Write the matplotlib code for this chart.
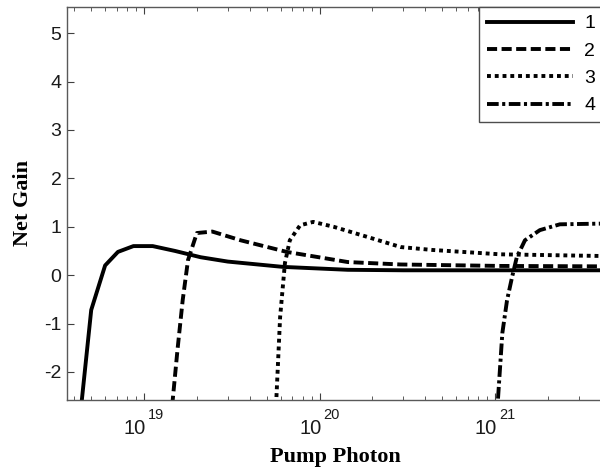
import matplotlib
matplotlib.use("Agg")
import matplotlib.pyplot as plt
from matplotlib.ticker import LogLocator, NullFormatter

# Net gain curves vs pump photon density
x1 = [4.3e18, 5.0e18, 6.0e18, 7.1e18, 8.7e18, 1.12e19, 1.5e19, 2.1e19, 3.0e19, 6.2e19, 1.45e20, 3.0e20, 1.07e21, 5e21]
y1 = [-3.0, -0.72, 0.2, 0.48, 0.6, 0.6, 0.5, 0.37, 0.28, 0.17, 0.11, 0.1, 0.1, 0.1]

x2 = [1.42e19, 1.55e19, 1.66e19, 1.78e19, 2.0e19, 2.45e19, 3.55e19, 6.5e19, 1.45e20, 2.9e20, 1.07e21, 5e21]
y2 = [-3.0, -1.55, -0.52, 0.31, 0.87, 0.9, 0.72, 0.48, 0.27, 0.22, 0.19, 0.18]

x3 = [5.6e19, 5.96e19, 6.2e19, 6.35e19, 6.77e19, 7.75e19, 9.2e19, 1.2e20, 1.87e20, 2.9e20, 4.4e20, 1.07e21, 5e21]
y3 = [-3.0, -0.87, -0.17, 0.25, 0.72, 1.03, 1.1, 1.0, 0.79, 0.58, 0.52, 0.43, 0.39]

x4 = [1.02e21, 1.1e21, 1.17e21, 1.25e21, 1.33e21, 1.48e21, 1.8e21, 2.34e21, 5e21]
y4 = [-3.0, -1.2, -0.52, -0.04, 0.37, 0.72, 0.93, 1.05, 1.07]

labels = ["1", "2", "3", "4"]
decades = [19, 20, 21]

plt.rcParams["font.family"] = "Liberation Sans"
plt.rcParams["axes.unicode_minus"] = False

fig = plt.figure(figsize=(6, 4.75), dpi=100)
ax = fig.add_axes([67 / 600, 75 / 475, 536 / 600, 393 / 475])

lw = 2.8
ax.plot(x1, y1, color="black", lw=lw, linestyle="-", label=labels[0])
ax.plot(x2, y2, color="black", lw=lw, linestyle=(0, (2.6, 1.15)), label=labels[1])
ax.plot(x3, y3, color="black", lw=lw, linestyle=(0, (1.0, 1.0)), label=labels[2])
ax.plot(x4, y4, color="black", lw=lw, linestyle=(0, (3.0, 0.9, 0.8, 0.9)), label=labels[3])

ax.set_xscale("log")
ax.set_xlim(10 ** 18.561, 10 ** 21.615)
ax.set_ylim(-2.58, 5.54)
ax.set_yticks([-2, -1, 0, 1, 2, 3, 4, 5])
ax.xaxis.set_major_locator(LogLocator(base=10, numticks=10))
ax.xaxis.set_minor_locator(LogLocator(base=10, subs=range(2, 10), numticks=20))
ax.xaxis.set_major_formatter(NullFormatter())
ax.xaxis.set_minor_formatter(NullFormatter())

# decade labels: "10" with a raised exponent, like the original
tr = ax.get_xaxis_transform()
for d in decades:
    ax.annotate("10", xy=(10.0 ** d, 0), xycoords=tr, xytext=(1.5, -14), textcoords="offset points",
                ha="right", va="top", fontsize=14.5, color="0.1")
    ax.annotate(str(d), xy=(10.0 ** d, 0), xycoords=tr, xytext=(3, -5.5), textcoords="offset points",
                ha="left", va="top", fontsize=10.5, color="0.1")

ax.tick_params(which="both", direction="in", top=True, right=False, color="0.25")
ax.tick_params(which="major", length=5, labelsize=14, pad=4, labelcolor="0.1")
ax.tick_params(which="minor", length=3)
for s in ax.spines.values():
    s.set_color("0.35")
    s.set_linewidth(1.0)

ax.set_xlabel("Pump Photon", family="Liberation Serif", fontweight="bold", fontsize=16, labelpad=30)
ax.set_ylabel("Net Gain", family="Liberation Serif", fontweight="bold", fontsize=16, labelpad=8)

leg = ax.legend(loc="upper right", bbox_to_anchor=(1.0, 1.0), borderaxespad=0, fontsize=14,
                handlelength=4.4, labelspacing=0.5, fancybox=False, framealpha=1,
                edgecolor="0.3", borderpad=0.4, handletextpad=0.6)
leg.get_frame().set_linewidth(1.0)

fig.savefig("out.png", dpi=100)
